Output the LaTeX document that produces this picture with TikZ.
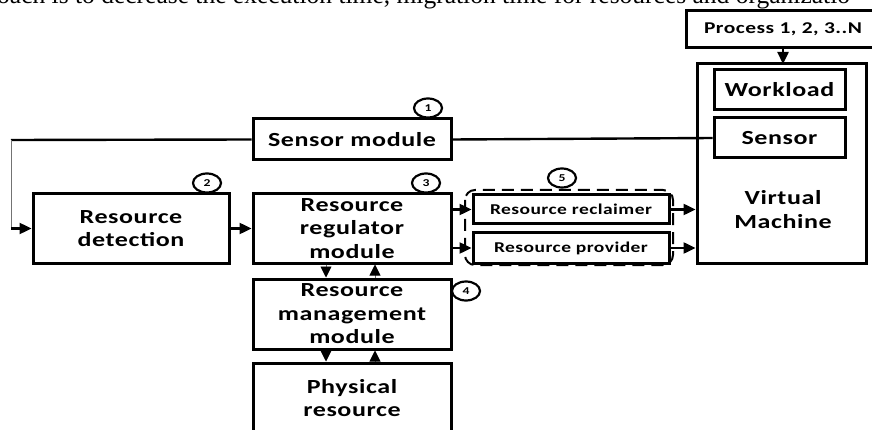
\documentclass[tikz,border=0pt]{standalone}
\usepackage{fontspec}
\setmainfont{Carlito}[FakeStretch=1.3, LetterSpace=3]
\newfontfamily\bodyserif{Liberation Serif}
\usetikzlibrary{arrows.meta,shapes.geometric}
\tikzset{
  blk/.style={draw, line width=3pt, inner sep=0pt, align=center,
    font=\fontsize{20}{23.5}\selectfont\bfseries},
  smallblk/.style={blk, font=\fontsize{15}{17}\selectfont\bfseries},
  num/.style={draw, line width=2.2pt, ellipse, minimum width=28pt, minimum height=19pt,
    inner sep=0pt, font=\fontsize{10.5}{10.5}\selectfont\bfseries},
  link/.style={line width=2.4pt, -{Triangle[length=12pt,width=11pt]}},
  thinlink/.style={line width=0.9pt, draw=black!55, -{Triangle[length=11pt,width=11pt,fill=black,color=black]}},
  plain/.style={line width=2.4pt},
}
\begin{document}
\begin{tikzpicture}[x=1pt, y=-1pt]
\useasboundingbox (0,0) rectangle (872,430);
\clip (0,0) rectangle (872,430);

% running text of the page above the figure
\node[anchor=base west, inner sep=0pt, font=\bodyserif\fontsize{25.5}{28}\selectfont]
  (bodytext) at (-3,4) {oach is to decrease the execution time, migration time for resources and organizatio};

% virtual machine side
\node[blk, minimum width=194pt, minimum height=37pt, font=\fontsize{16.5}{20}\selectfont\bfseries]
  (proc) at (783,29) {Process 1, 2, 3..N};
\node[blk, minimum width=169pt, minimum height=199pt] (vm) at (781.5,163.5) {};
\node[blk, minimum width=131pt, minimum height=40pt] (work) at (779.5,90) {Workload};
\node[blk, minimum width=131pt, minimum height=40pt] (sens) at (779.5,138) {Sensor};
\node[font=\fontsize{20}{24}\selectfont\bfseries, align=center] (vmtxt) at (783,210) {Virtual\\Machine};

% modules
\node[blk, minimum width=198pt, minimum height=41pt] (smod) at (352,139.5) {Sensor module};
\node[blk, minimum width=196pt, minimum height=69pt] (rd) at (131,228.5) {Resource\\detection};
\node[blk, minimum width=198pt, minimum height=69pt] (rrm) at (352,228.5) {Resource\\regulator\\module};
\node[blk, minimum width=198pt, minimum height=70pt] (rmm) at (352,314) {Resource\\management\\module};
\node[blk, minimum width=198pt, minimum height=70pt] (pr) at (352,398) {Physical\\resource};

% resource allocation group
\draw[line width=2pt, dash pattern=on 12pt off 7pt, rounded corners=10pt]
  (465,190) rectangle (673,265);
\node[smallblk, minimum width=196pt, minimum height=29pt] (recl) at (571,209.5) {Resource reclaimer};
\node[smallblk, minimum width=196pt, minimum height=30pt] (prov) at (571,248) {Resource provider};

% step numbers
\node[num] (n1) at (428,108) {1};
\node[num] (n2) at (207,183) {2};
\node[num] (n3) at (426,183) {3};
\node[num] (n4) at (466,291) {4};
\node[num] (n5) at (562,178) {5};

% connectors
\coordinate (lefttop) at (11,140);
\coordinate (leftbot) at (11,228.5);
\draw[link] (proc.south -| 783,0) -- (783,64);
\draw[plain] (smod.east) -- (sens.west);
\draw[plain] (smod.west) -- (lefttop);
\draw[line width=1pt, draw=black!55] (lefttop) -- (leftbot);
\draw[link] (leftbot) -- (rd.west);
\draw[link] (rd.east) -- (rrm.west);
\draw[link] (rrm.east |- recl.west) -- (recl.west);
\draw[link] (rrm.east |- prov.west) -- (prov.west);
\draw[link] (recl.east) -- (recl.east -| vm.west);
\draw[link] (prov.east) -- (prov.east -| vm.west);
\draw[thinlink] (rrm.south -| 326,0) -- (rmm.north -| 326,0);
\draw[thinlink] (rmm.north -| 375,0) -- (rrm.south -| 375,0);
\draw[thinlink] (rmm.south -| 326,0) -- (pr.north -| 326,0);
\draw[thinlink] (pr.north -| 375,0) -- (rmm.south -| 375,0);
\end{tikzpicture}
\end{document}
